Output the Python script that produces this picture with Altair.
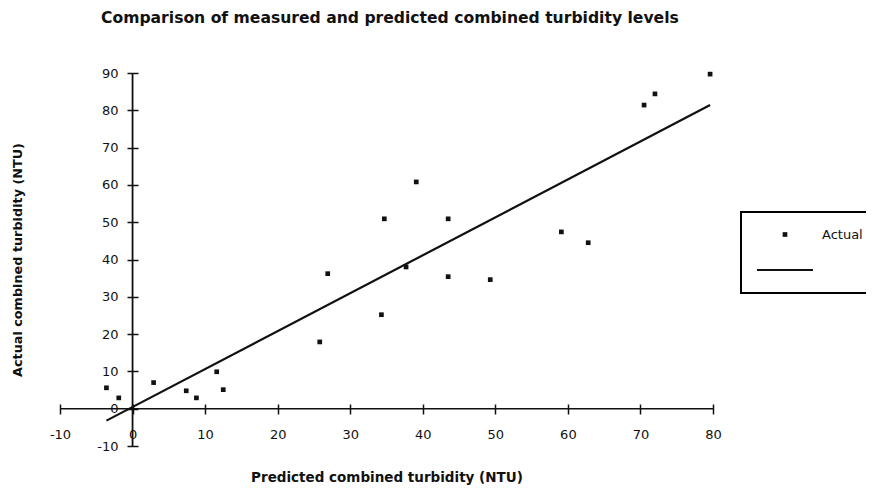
import altair as alt
import pandas as pd

# Measured vs predicted combined turbidity (NTU)
predicted = [-3.6, -1.9, 2.9, 7.4, 8.8, 11.6, 12.5, 25.8, 26.9, 34.3, 34.7,
             37.7, 39.1, 43.5, 43.5, 49.3, 59.1, 62.8, 70.5, 72.0, 79.6]
actual = [5.6, 2.9, 7.0, 4.8, 2.9, 9.9, 5.1, 17.9, 36.2, 25.2, 50.9,
          38.0, 60.8, 50.9, 35.4, 34.6, 47.4, 44.5, 81.4, 84.4, 89.7]

# Fitted line end points
fit_x = [-3.6, 79.6]
fit_y = [-3.2, 81.4]

# Axis extents and ticks
x_ticks = [-10, 0, 10, 20, 30, 40, 50, 60, 70, 80]
y_ticks = [-10, 0, 10, 20, 30, 40, 50, 60, 70, 80, 90]
series_names = ["Actual", " "]

FONT = "DejaVu Sans"
INK = "#111111"

# legend symbols: a square marker and a thin filled bar standing for the fitted line
SQUARE = "M-1,-1H1V1H-1Z"
BAR = "M-1,-0.04H1V0.04H-1Z"

pts = pd.DataFrame({"pred": predicted, "act": actual, "series": ["Actual"] * len(predicted)})
fit = pd.DataFrame({"pred": fit_x, "act": fit_y})
xaxis_df = pd.DataFrame({"pred": [x_ticks[0]], "x2": [x_ticks[-1]], "act": [0]})
yaxis_df = pd.DataFrame({"pred": [0], "act": [y_ticks[0]], "y2": [y_ticks[-1]]})

xscale = alt.Scale(domain=[x_ticks[0], x_ticks[-1]], nice=False, zero=False)
yscale = alt.Scale(domain=[y_ticks[0], y_ticks[-1]], nice=False, zero=False)

common_axis = dict(grid=False, domain=False, tickWidth=1.5, tickColor=INK,
                   labelFont=FONT, labelFontSize=13, labelColor=INK,
                   labelOverlap=False, labelFlush=False,
                   labelExpr="'' + datum.value",
                   titleFont=FONT, titleFontWeight="bold", titleColor=INK)

xaxis = alt.Axis(values=x_ticks, tickCount=len(x_ticks), title="Predicted combined turbidity (NTU)",
                 offset=-42, tickSize=10, labelPadding=14, titlePadding=29,
                 titleFontSize=13.5, **common_axis)
yaxis = alt.Axis(values=y_ticks, tickCount=len(y_ticks), title="Actual combined turbidity (NTU)",
                 offset=-78, tickSize=11, labelPadding=9, titlePadding=72,
                 titleFontSize=12.8, **common_axis)

legend = alt.Legend(orient="none", legendX=681, legendY=139, title=None,
                    strokeColor="black", fillColor="white", padding=16,
                    labelFont=FONT, labelFontSize=13, labelColor=INK,
                    labelOffset=9, rowPadding=-1,
                    symbolFillColor=INK, symbolStrokeWidth=0)

X = alt.X("pred:Q", scale=xscale, axis=xaxis)
Y = alt.Y("act:Q", scale=yscale, axis=yaxis)

points = alt.Chart(pts).mark_point(filled=True, color=INK, opacity=1).encode(
    x=X, y=Y,
    shape=alt.Shape("series:N", scale=alt.Scale(domain=series_names, range=[SQUARE, BAR]),
                    legend=legend),
    size=alt.Size("series:N", scale=alt.Scale(domain=series_names, range=[22, 3136]),
                  legend=legend),
)

line = alt.Chart(fit).mark_line(color=INK, strokeWidth=2.2).encode(x=X, y=Y)

xrule = alt.Chart(xaxis_df).mark_rule(color=INK, strokeWidth=1.5).encode(x=X, x2="x2:Q", y=Y)
yrule = alt.Chart(yaxis_df).mark_rule(color=INK, strokeWidth=1.8).encode(x=X, y=Y, y2="y2:Q")

chart = alt.layer(xrule, yrule, line, points).properties(
    width=653, height=373,
    title=alt.TitleParams("Comparison of measured and predicted combined turbidity levels",
                          anchor="start", frame="group", dx=41, offset=40,
                          font=FONT, fontSize=15.6, fontWeight="bold", color=INK),
    autosize=alt.AutoSizeParams(type="none"),
    padding={"left": 52, "top": 65, "right": 153, "bottom": 39},
).configure_view(stroke=None).configure_legend(strokeWidth=2)

chart.save("out.html", embed_options={"renderer": "svg", "actions": False})
